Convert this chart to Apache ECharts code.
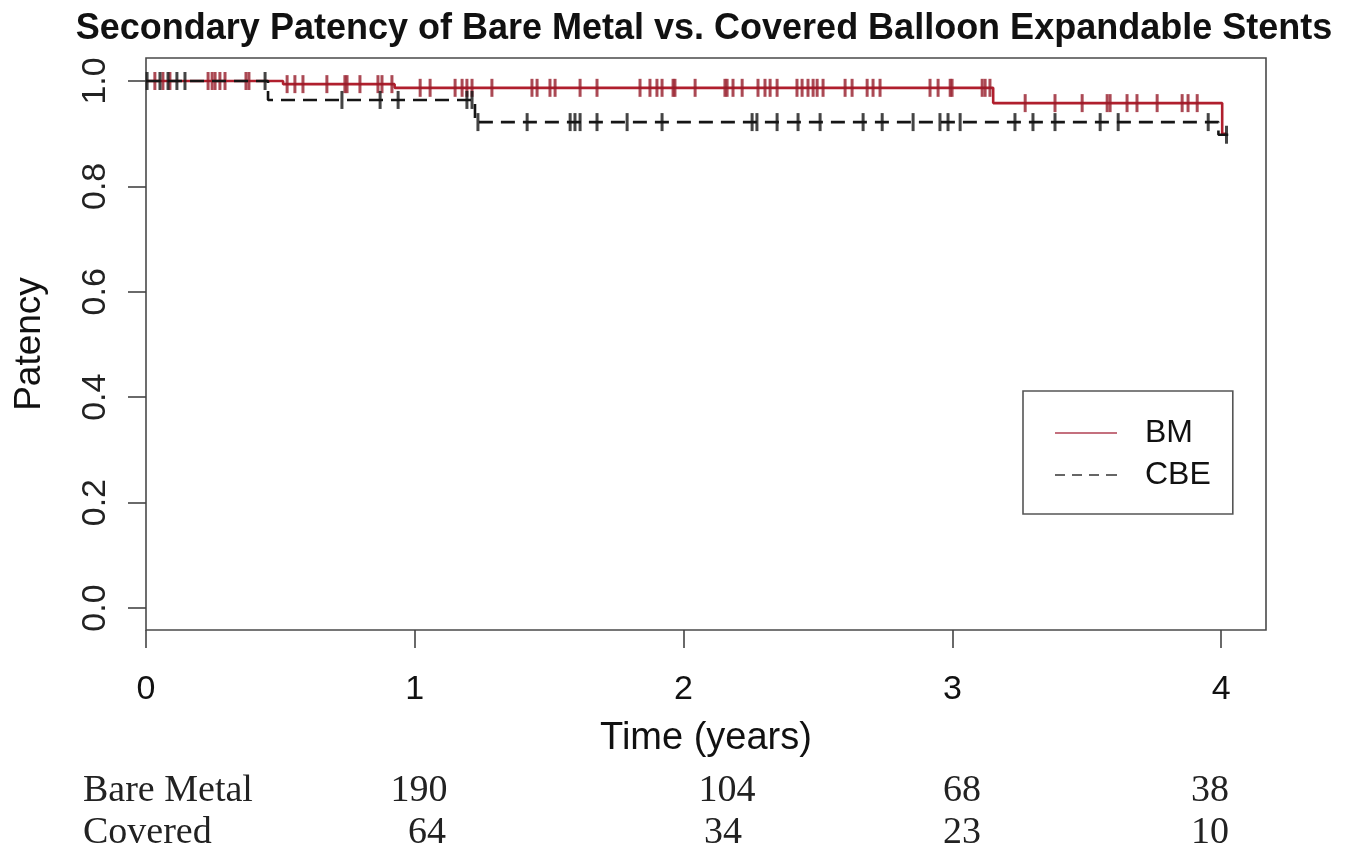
<!DOCTYPE html>
<html><head><meta charset="utf-8">
<script src="https://cdn.jsdelivr.net/npm/echarts@6/dist/echarts.min.js"></script>
<style>html,body{margin:0;padding:0;background:#fff}#c{width:1353px;height:854px}</style>
</head><body><div id="c"></div><script>
// ---- data ----
const xTicks = [0, 1, 2, 3, 4];
const yTicks = [0, 0.2, 0.4, 0.6, 0.8, 1.0];
// Kaplan-Meier step points [time (years), patency]
const bmSteps  = [[0, 1], [0.51, 0.994], [0.925, 0.987], [3.152, 0.958], [4.004, 0.90], [4.02, 0.90]];
const cbeSteps = [[0, 1], [0.454, 0.964], [1.224, 0.922], [3.99, 0.898], [4.03, 0.898]];
// censoring times (years)
const bmCensor = [0.033, 0.063, 0.089, 0.231, 0.246, 0.257, 0.275, 0.294, 0.372, 0.383,
  0.525, 0.554, 0.584, 0.673, 0.740, 0.748, 0.796, 0.863, 0.878, 0.915,
  1.020, 1.057, 1.150, 1.176, 1.194, 1.213, 1.287, 1.436, 1.455, 1.503, 1.522, 1.615, 1.678,
  1.838, 1.875, 1.901, 1.920, 1.961, 1.968, 2.043, 2.154, 2.162, 2.184, 2.218, 2.277, 2.303,
  2.322, 2.348, 2.422, 2.441, 2.463, 2.482, 2.497, 2.519, 2.601, 2.627, 2.683, 2.705, 2.731,
  2.917, 2.947, 2.992, 2.999, 3.111, 3.122, 3.140,
  3.271, 3.382, 3.483, 3.576, 3.587, 3.650, 3.687, 3.762, 3.855, 3.877, 3.911];
const cbeCensor = [0.004, 0.052, 0.082, 0.115, 0.145, 0.443,
  0.729, 0.871, 0.938, 1.194, 1.213,
  1.235, 1.418, 1.578, 1.596, 1.615, 1.678, 1.790, 1.920, 2.255, 2.273, 2.348, 2.426, 2.508,
  2.668, 2.739, 2.854, 2.954, 2.984, 3.029, 3.233, 3.300, 3.382, 3.550, 3.617, 3.952, 4.02];
const seriesNames = ['BM', 'CBE'];
const riskLabels = ['Bare Metal', 'Covered'];
const riskBM  = [190, 104, 68, 38];
const riskCBE = [64, 34, 23, 10];

// ---- helpers ----
function survAt(steps, t) {
  let v = steps[0][1];
  for (const s of steps) { if (s[0] <= t) v = s[1]; }
  return v;
}
const bmCensorPts = bmCensor.map(t => [t, survAt(bmSteps, t)]);
const cbeCensorPts = cbeCensor.map(t => [t, survAt(cbeSteps, t)]);

const RED = '#b01f2d', RED_TICK = '#961c29', BLK = '#151515';
const SANS = 'Liberation Sans, Arial, sans-serif';
const SERIF = 'Liberation Serif, Times New Roman, serif';

const chart = echarts.init(document.getElementById('c'), null, {renderer: 'canvas'});

// risk table layout (pixel positions of columns)
const riskCols = [419, 727, 962, 1210];
const riskColsCBE = [427, 723, 962, 1210];
const graphics = [];
graphics.push({type: 'text', left: 83, top: 772, style: {text: riskLabels[0], font: '38px ' + SERIF, fill: '#222'}});
graphics.push({type: 'text', left: 83, top: 814, style: {text: riskLabels[1], font: '38px ' + SERIF, fill: '#222'}});
riskBM.forEach((v, i) => graphics.push({type: 'text', x: riskCols[i], y: 791,
  style: {text: String(v), font: '38px ' + SERIF, fill: '#222', align: 'center', verticalAlign: 'middle'}}));
riskCBE.forEach((v, i) => graphics.push({type: 'text', x: riskColsCBE[i], y: 833,
  style: {text: String(v), font: '38px ' + SERIF, fill: '#222', align: 'center', verticalAlign: 'middle'}}));

const solidIcon = 'path://M0,0h62v2h-62z';
const dashIcon = 'path://M0,0h10v2h-10z M17,0h10v2h-10z M34,0h10v2h-10z M51,0h11v2h-11z';

chart.setOption({
  animation: false,
  backgroundColor: '#fff',
  title: {
    text: 'Secondary Patency of Bare Metal vs. Covered Balloon Expandable Stents',
    left: 699, top: 6, textAlign: 'center',
    textStyle: {fontFamily: SANS, fontWeight: 'bold', fontSize: 36, color: '#111'}
  },
  grid: {left: 146, top: 58, width: 1120, height: 572, show: true,
    borderColor: '#4a4a4a', borderWidth: 1.6, backgroundColor: 'transparent'},
  legend: {
    orient: 'vertical', left: 1023, top: 391,
    data: [
      {name: seriesNames[0], icon: solidIcon, itemStyle: {color: '#c4707e'}},
      {name: seriesNames[1], icon: dashIcon, itemStyle: {color: '#666'}}
    ],
    itemWidth: 62, itemHeight: 2, itemGap: 10,
    padding: [26, 22, 23, 32],
    borderColor: '#555', borderWidth: 1.6,
    textStyle: {fontFamily: SANS, fontSize: 32, color: '#111', lineHeight: 30, padding: [0, 0, 0, 23]}
  },
  xAxis: {
    type: 'value', min: 0, max: 4.167,
    name: 'Time (years)', nameLocation: 'middle', nameGap: 90,
    nameTextStyle: {fontFamily: SANS, fontSize: 38, color: '#111'},
    axisLine: {show: false, onZero: false},
    axisTick: {show: true, length: 18, lineStyle: {color: '#444', width: 1.6}, customValues: xTicks},
    axisLabel: {customValues: xTicks, margin: 43, fontFamily: SANS, fontSize: 34, color: '#111',
      formatter: v => String(Math.round(v))},
    splitLine: {show: false}
  },
  yAxis: {
    type: 'value', min: -0.0417, max: 1.0436,
    name: 'Patency', nameLocation: 'middle', nameGap: 98,
    nameTextStyle: {fontFamily: SANS, fontSize: 37, color: '#111'},
    axisLine: {show: false, onZero: false},
    axisTick: {show: true, length: 18, lineStyle: {color: '#444', width: 1.6}, customValues: yTicks},
    axisLabel: {customValues: yTicks, rotate: 90, margin: 33, fontFamily: SANS, fontSize: 34, color: '#222',
      formatter: v => v.toFixed(1)},
    splitLine: {show: false}
  },
  series: [
    {name: seriesNames[0], type: 'line', step: 'end', data: bmSteps, symbol: 'none',
      lineStyle: {color: RED, width: 2.6}, itemStyle: {color: RED}, z: 2},
    {name: 'BM censored', type: 'scatter', data: bmCensorPts, symbol: 'rect', symbolSize: [3, 18],
      itemStyle: {color: RED_TICK}, z: 3},
    {name: seriesNames[1], type: 'line', step: 'end', data: cbeSteps, symbol: 'none',
      lineStyle: {color: BLK, width: 2.6, type: [14, 8]}, itemStyle: {color: BLK}, z: 4},
    {name: 'CBE censored', type: 'scatter', data: cbeCensorPts, symbol: 'rect', symbolSize: [3, 18],
      itemStyle: {color: BLK}, z: 5}
  ],
  graphic: graphics
});
</script></body></html>
